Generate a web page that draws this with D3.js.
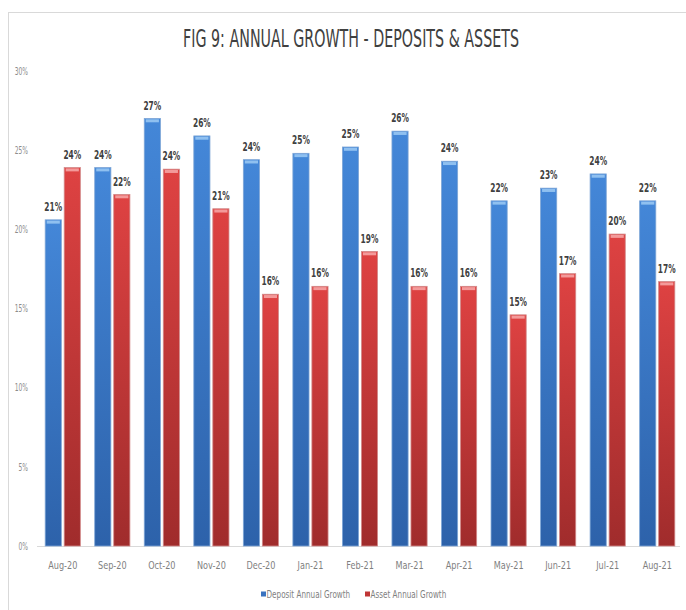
<!DOCTYPE html>
<html>
<head>
<meta charset="utf-8">
<script src="https://cdn.jsdelivr.net/npm/d3@7"></script>
<style>
  body { margin: 0; background: #fff; }
  svg text { font-family: "DejaVu Sans", sans-serif; }
</style>
</head>
<body>
<div id="chart"></div>
<script>
const months = ['Aug-20', 'Sep-20', 'Oct-20', 'Nov-20', 'Dec-20', 'Jan-21', 'Feb-21',
                'Mar-21', 'Apr-21', 'May-21', 'Jun-21', 'Jul-21', 'Aug-21'];
const depositGrowth = [20.6, 23.9, 27.0, 25.9, 24.4, 24.8, 25.2, 26.2, 24.3, 21.8, 22.6, 23.5, 21.8];
const assetGrowth   = [23.9, 22.2, 23.8, 21.3, 15.9, 16.4, 18.6, 16.4, 16.4, 14.6, 17.2, 19.7, 16.7];
const yTicks = [0, 5, 10, 15, 20, 25, 30];
const seriesNames = ['Deposit Annual Growth', 'Asset Annual Growth'];

const width = 686, height = 610;
const baseY = 546, topY = 71;

const svg = d3.select('#chart').append('svg')
    .attr('width', width)
    .attr('height', height);

// squeeze text horizontally, the original uses a condensed face
function narrow(sel, f) {
    sel.each(function() {
        const t = d3.select(this);
        const x = +t.attr('x') || 0, y = +t.attr('y') || 0;
        t.attr('x', 0).attr('y', 0)
         .attr('transform', `translate(${x},${y}) scale(${f},1)`);
    });
}

// gradients for the bevelled bar look
const defs = svg.append('defs');
const grads = [
    {id: 'gBlue', top: '#4487d8', bottom: '#2d62aa', cap: '#8fc0f0'},
    {id: 'gRed', top: '#de4242', bottom: '#a02c2c', cap: '#f39a9a'}
];
grads.forEach(g => {
    const lg = defs.append('linearGradient').attr('id', g.id)
        .attr('x1', 0).attr('y1', 0).attr('x2', 0).attr('y2', 1);
    lg.append('stop').attr('offset', '0%').attr('stop-color', g.top);
    lg.append('stop').attr('offset', '100%').attr('stop-color', g.bottom);
});

// outer frame
svg.append('rect')
    .attr('x', 8.5).attr('y', 12.5)
    .attr('width', 800).attr('height', 800)
    .attr('fill', 'none')
    .attr('stroke', '#d9d9d9');

svg.append('text')
    .attr('x', 351)
    .attr('y', 47)
    .attr('text-anchor', 'middle')
    .attr('font-size', 24)
    .attr('fill', '#404040')
    .text('FIG 9: ANNUAL GROWTH - DEPOSITS & ASSETS')
    .call(narrow, 0.595);

const x0 = d3.scaleBand()
    .domain(months)
    .range([38, 682])
    .paddingInner(0.29)
    .paddingOuter(0.145);

const x1 = d3.scaleBand()
    .domain([0, 1])
    .range([0, x0.bandwidth()])
    .paddingInner(0.15);

const y = d3.scaleLinear()
    .domain([0, 30])
    .range([baseY, topY]);

// y axis labels
const yAxis = svg.append('g')
    .attr('transform', 'translate(28,0)')
    .call(d3.axisLeft(y).tickValues(yTicks).tickFormat(d => d + '%').tickSize(0).tickPadding(0));
yAxis.select('.domain').remove();
yAxis.selectAll('text')
    .attr('font-size', 10)
    .attr('fill', '#8c8c8c')
    .call(narrow, 0.6);

// x axis
const xAxis = svg.append('g')
    .attr('transform', `translate(0,${baseY})`)
    .call(d3.axisBottom(x0).tickSize(0).tickPadding(14));
xAxis.select('.domain')
    .attr('d', 'M37,0.5H680')
    .attr('stroke', '#d9d9d9');
xAxis.selectAll('text')
    .attr('font-size', 11)
    .attr('fill', '#7f7f7f')
    .attr('dy', null)
    .attr('y', 23)
    .call(narrow, 0.74);

const rows = months.map((m, i) => ({month: m, vals: [depositGrowth[i], assetGrowth[i]]}));
const fmt = d3.format('.0f');

const groups = svg.append('g').selectAll('g')
    .data(rows)
    .join('g')
    .attr('transform', d => `translate(${x0(d.month)},0)`);

const bars = groups.selectAll('g.bar')
    .data(d => d.vals.map((v, k) => ({k, v})))
    .join('g')
    .attr('class', 'bar');

bars.append('rect')
    .attr('x', d => x1(d.k))
    .attr('y', d => y(d.v))
    .attr('width', x1.bandwidth())
    .attr('height', d => baseY - y(d.v))
    .attr('fill', d => `url(#${grads[d.k].id})`)
    .attr('stroke', d => d.k === 0 ? '#7ea6d6' : '#d28a8a')
    .attr('stroke-width', 0.8);

// top highlight cap
bars.append('rect')
    .attr('x', d => x1(d.k) + 1.5)
    .attr('y', d => y(d.v) + 0.8)
    .attr('width', x1.bandwidth() - 3)
    .attr('height', 3)
    .attr('fill', d => grads[d.k].cap);

bars.append('text')
    .attr('x', d => x1(d.k) + x1.bandwidth() / 2)
    .attr('y', d => y(d.v) - 9)
    .attr('text-anchor', 'middle')
    .attr('font-size', 12)
    .attr('font-weight', 'bold')
    .attr('fill', '#404040')
    .text(d => fmt(d.v) + '%')
    .call(narrow, 0.62);

// legend
const legend = svg.append('g').attr('transform', 'translate(261,598)');
const legendX = [0, 104];
seriesNames.forEach((name, k) => {
    const g = legend.append('g').attr('transform', `translate(${legendX[k]},0)`);
    g.append('rect')
        .attr('x', 0).attr('y', -6.5)
        .attr('width', 5).attr('height', 5)
        .attr('fill', k === 0 ? '#3a73c0' : '#c03636');
    g.append('text')
        .attr('x', 5.5).attr('y', 0)
        .attr('font-size', 10.5)
        .attr('fill', '#7f7f7f')
        .text(name)
        .call(narrow, 0.69);
});
</script>
</body>
</html>
